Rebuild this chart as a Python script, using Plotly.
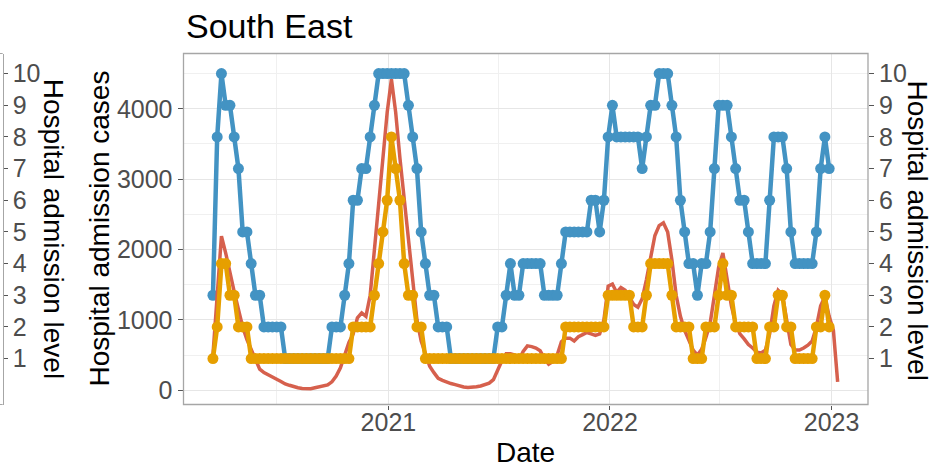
import pandas as pd
import plotly.graph_objects as go

# ---------------- data ----------------
start_date = "2020-03-18"   # first weekly observation

blue_level = [3, 8, 10, 9, 9, 8, 7, 5, 5, 4,
              3, 3, 2, 2, 2, 2, 2, 1, 1, 1,
              1, 1, 1, 1, 1, 1, 1, 1, 2, 2,
              2, 3, 4, 6, 6, 7, 7, 8, 9, 10,
              10, 10, 10, 10, 10, 10, 9, 8, 7, 5,
              4, 3, 3, 2, 2, 2, 1, 1, 1, 1,
              1, 1, 1, 1, 1, 1, 1, 2, 2, 3,
              4, 3, 3, 4, 4, 4, 4, 4, 3, 3,
              3, 3, 4, 5, 5, 5, 5, 5, 5, 6,
              6, 5, 6, 8, 9, 8, 8, 8, 8, 8,
              8, 7, 8, 9, 9, 10, 10, 10, 9, 8,
              6, 5, 4, 4, 3, 4, 4, 5, 7, 9,
              9, 9, 8, 7, 6, 6, 5, 4, 4, 4,
              4, 6, 8, 8, 8, 7, 5, 4, 4, 4,
              4, 4, 5, 7, 8, 7]

orange_level = [1, 2, 4, 4, 3, 3, 2, 2, 2, 1,
                1, 1, 1, 1, 1, 1, 1, 1, 1, 1,
                1, 1, 1, 1, 1, 1, 1, 1, 1, 1,
                1, 1, 1, 2, 2, 2, 2, 2, 3, 4,
                5, 6, 8, 7, 6, 4, 3, 3, 2, 2,
                1, 1, 1, 1, 1, 1, 1, 1, 1, 1,
                1, 1, 1, 1, 1, 1, 1, 1, 1, 1,
                1, 1, 1, 1, 1, 1, 1, 1, 1, 1,
                1, 1, 1, 2, 2, 2, 2, 2, 2, 2,
                2, 2, 2, 3, 3, 3, 3, 3, 3, 2,
                2, 2, 3, 4, 4, 4, 4, 4, 3, 2,
                2, 2, 2, 1, 1, 1, 2, 2, 2, 3,
                4, 3, 3, 2, 2, 2, 2, 2, 1, 1,
                1, 2, 2, 3, 3, 2, 2, 1, 1, 1,
                1, 1, 2, 2, 3, 2]

red_cases = [500, 1400, 2190, 1950, 1650, 1400, 1150, 900, 720, 580,
             440, 300, 250, 215, 180, 155, 125, 90, 70, 48,
             35, 25, 18, 22, 35, 45, 55, 75, 120, 200,
             320, 500, 680, 800, 1030, 1100, 1050, 1350, 2000, 2750,
             3300, 3950, 4420, 3950, 3300, 2700, 2150, 1500, 1000, 700,
             500, 340, 250, 170, 140, 115, 95, 80, 60, 45,
             38, 40, 50, 60, 80, 100, 150, 300, 420, 520,
             520, 500, 430, 550, 630, 620, 600, 560, 450, 370,
             410, 500, 690, 740, 740, 700, 760, 790, 820, 800,
             780, 800, 1000, 1480, 1510, 1390, 1460, 1420, 1320, 1220,
             1180, 1300, 1570, 1900, 2200, 2340, 2380, 2250, 1850, 1350,
             1050, 850, 700, 570, 500, 580, 750, 950, 1350, 1750,
             1950, 1600, 1200, 950, 800, 730, 650, 600, 540, 530,
             570, 800, 1200, 1420, 1360, 1000, 650, 570, 570, 600,
             640, 700, 900, 1200, 1330, 1050, 850, 120]

case_ticks = [0, 1000, 2000, 3000, 4000]
level_ticks = [1, 2, 3, 4, 5, 6, 7, 8, 9, 10]
year_ticks = ["2021-01-01", "2022-01-01", "2023-01-01"]
year_labels = ["2021", "2022", "2023"]

title_text = "South East"
x_title = "Date"
cases_title = "Hospital admission cases"
level_title = "Hospital admission level"

LEVEL_SCALE = 450          # cases per admission level on the secondary scale
CASE_RANGE = [-203, 4786]
X_RANGE = ["2020-01-29 12:00", "2023-03-02"]

dates_lvl = pd.date_range(start_date, periods=len(blue_level), freq="7D")
dates_red = pd.date_range(start_date, periods=len(red_cases), freq="7D")

# ---------------- style ----------------
W, H = 943, 471
LEFT, RIGHT, TOP, BOT = 183.5, 868.0, 53.5, 404.5
BLUE, RED, ORANGE = "#4393C3", "#D6604D", "#E69F00"
FONT = "Liberation Sans, Arial, sans-serif"
TICKFONT = dict(family=FONT, size=25, color="#4D4D4D")
GRID, MINOR_GRID = "#E6E6E6", "#F0F0F0"
AXCOL = "#A6A6A6"

lvl_range = [CASE_RANGE[0] / LEVEL_SCALE, CASE_RANGE[1] / LEVEL_SCALE]
ydom = [1 - BOT / H, 1 - TOP / H]

fig = go.Figure()
fig.add_trace(go.Scatter(x=dates_lvl, y=blue_level, mode="lines+markers",
                         line=dict(color=BLUE, width=4.5), marker=dict(size=11, color=BLUE),
                         yaxis="y", showlegend=False))
fig.add_trace(go.Scatter(x=dates_red, y=red_cases, mode="lines",
                         line=dict(color=RED, width=3.5), yaxis="y2", showlegend=False))
fig.add_trace(go.Scatter(x=dates_lvl, y=orange_level, mode="lines+markers",
                         line=dict(color=ORANGE, width=4.5), marker=dict(size=11, color=ORANGE),
                         yaxis="y3", showlegend=False))
# invisible carrier so that the neighbouring panel's level axis is drawn
fig.add_trace(go.Scatter(x=dates_lvl, y=orange_level, mode="lines", opacity=0,
                         line=dict(width=0), yaxis="y4", showlegend=False, hoverinfo="skip"))

fig.update_layout(
    template="none",
    width=W, height=H,
    margin=dict(l=0, r=0, t=0, b=0),
    paper_bgcolor="white", plot_bgcolor="white",
    showlegend=False,
    xaxis=dict(
        domain=[LEFT / W, RIGHT / W], type="date", range=X_RANGE,
        tickvals=year_ticks, ticktext=year_labels, tickfont=TICKFONT,
        ticks="outside", ticklen=4, tickcolor="#555555", tickwidth=1,
        ticklabelstandoff=-9,
        showgrid=True, gridcolor=GRID, gridwidth=1, zeroline=False,
        minor=dict(tickvals=["2020-07-01", "2021-07-01", "2022-07-01"],
                   showgrid=True, gridcolor=MINOR_GRID, ticks=""),
        showline=False, automargin=False, anchor="y",
    ),
    yaxis=dict(   # admission level, right side (blue)
        domain=ydom, range=lvl_range, side="right", anchor="x",
        tickvals=level_ticks, tickfont=TICKFONT,
        ticks="outside", ticklen=5, tickcolor="#555555", tickwidth=1,
        showgrid=False, zeroline=False, showline=False, automargin=False,
    ),
    yaxis2=dict(  # admission cases, left side (red)
        overlaying="y", range=CASE_RANGE, side="left", anchor="x",
        tickvals=case_ticks, tickfont=TICKFONT,
        ticks="outside", ticklen=5, tickcolor="#555555", tickwidth=1,
        showgrid=True, gridcolor=GRID, gridwidth=1, zeroline=False,
        minor=dict(tickvals=[500, 1500, 2500, 3500, 4500], showgrid=True,
                   gridcolor=MINOR_GRID, ticks=""),
        showline=False, automargin=False,
    ),
    yaxis3=dict(  # admission level (orange), same scale as right axis
        overlaying="y", range=lvl_range, visible=False, anchor="x",
    ),
    yaxis4=dict(  # neighbouring panel's level axis, cut at the left edge
        overlaying="y", range=lvl_range, anchor="free", position=2.7 / W,
        side="right", tickvals=level_ticks, tickfont=TICKFONT,
        ticks="outside", ticklen=4, tickcolor="#555555",
        showline=True, linecolor=AXCOL, linewidth=1,
        showgrid=False, zeroline=False, automargin=False,
    ),
)

# panel border
fig.add_shape(type="rect", xref="x domain", yref="y domain", x0=0, x1=1, y0=0, y1=1,
              line=dict(color=AXCOL, width=1.3), layer="above")
# corners of the neighbouring panel border
for yy in (TOP, BOT):
    fig.add_shape(type="line", xref="paper", yref="paper", x0=0, x1=2.7 / W,
                  y0=1 - yy / H, y1=1 - yy / H, line=dict(color=AXCOL, width=1))

def ann(text, xpx, ypx, size, angle=0, xanchor="center", color="black"):
    fig.add_annotation(text=text, xref="paper", yref="paper", x=xpx / W, y=1 - ypx / H,
                       xanchor=xanchor, yanchor="middle", textangle=angle, showarrow=False,
                       font=dict(family=FONT, size=size, color=color))

ann(title_text, LEFT, 26, 34, xanchor="left")
ann(x_title, (LEFT + RIGHT) / 2, 452, 28)
ann(cases_title, 98.5, 229, 28, angle=-90)
ann(level_title, 917.5, 230, 28, angle=90)
ann(level_title, 54.2, 229, 28, angle=90)

fig.write_html("out.html")
